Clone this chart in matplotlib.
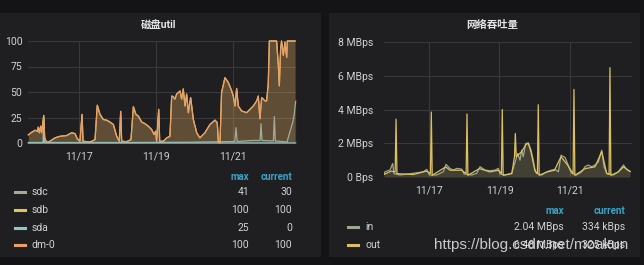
import pandas as pd
import matplotlib.pyplot as plt
import matplotlib.dates as mdates
from matplotlib.patches import Rectangle
from matplotlib.lines import Line2D
from matplotlib.ticker import FuncFormatter

plt.rcParams['font.family'] = ['Roboto', 'Noto Sans CJK SC', 'DejaVu Sans']

W, H = 644, 265

# ---- 磁盘util (hours after 11/15 16:10, percent) ----
disk_start = pd.Timestamp('2018-11-15 16:10')
disk_span = 167.1

dm0_h = [0.2, 2.3, 4.4, 5.8, 6.4, 7.1, 7.9, 8.5, 9.8, 10.4, 11.6, 13.7, 16.8, 20.0,
         24.1, 27.2, 29.3, 30.8, 32.4, 33.7, 34.3, 38.7, 41.8, 43.2, 44.9, 47.0, 49.0,
         51.1, 53.2, 55.3, 56.9, 57.8, 58.4, 61.5, 64.2, 65.7, 67.3, 68.8, 70.9, 72.9,
         75.0, 77.1, 78.6, 79.6, 80.2, 81.5, 82.1, 84.4, 86.5, 88.5, 89.6, 90.6, 91.6,
         92.7, 94.8, 95.8, 96.8, 97.9, 98.9, 100.0, 101.4, 103.1, 105.2, 107.2, 110.3,
         113.5, 116.6, 118.0, 118.7, 119.7, 120.7, 122.8, 124.9, 127.0, 128.0, 129.1,
         130.1, 131.1, 133.2, 136.3, 140.5, 142.6, 143.6, 144.6, 145.7, 147.8, 148.8,
         149.8, 150.5, 155.0, 156.1, 156.7, 157.5, 158.1, 159.2, 160.2, 161.3, 161.7,
         166.5]
dm0_v = [8, 10.5, 12.5, 11.5, 15.5, 10, 16.5, 10, 27, 5, 0.7, 1.7, 5, 6.6,
         7.3, 10, 9.2, 4, 1.7, 28, 1.7, 1, 3.3, 37, 28, 23, 22.4,
         20.5, 18.2, 6.6, 1.7, 31, 1.7, 1.3, 3.3, 35.6, 28, 26.4, 20.5, 19,
         16.5, 13.2, 8.3, 11.6, 1.7, 33, 1.7, 1.7, 5, 6.6, 46, 45.5, 43,
         48, 51, 43, 53, 36.3, 48, 29.7, 44.5, 23, 10, 5, 10,
         18.2, 22.4, 20, 0.7, 0, 49.5, 64, 59.4, 51, 46, 36.3,
         53.5, 36.3, 31.4, 29.7, 36.3, 41.3, 46, 23.8, 44.5, 41.3, 41.3,
         57.8, 100, 100, 76, 56, 92, 100, 86, 99, 84, 100,
         100]
sdb_h = dm0_h
sdb_v = dm0_v
sdc_h = [0.2, 30, 60, 100, 128.9, 129.7, 130.4, 140, 144.7, 145.3, 145.9,
         153.0, 153.6, 154.2, 161.5, 163.5, 165.0, 166.0, 166.9]
sdc_v = [0.5, 0.5, 0.5, 0.8, 1.5, 15, 1.5, 2.5, 2.5, 19, 2.5,
         2, 26, 2, 1, 12, 20, 28, 41]
sda_h = [0.2, 9.4, 9.8, 10.2, 166.9]
sda_v = [0, 0, 25, 0, 0]

disk_names = ['sdc', 'sdb', 'sda', 'dm-0']
disk_colors = ['#a3ab98', '#e0c460', '#8cc7c9', '#e9a066']
disk_max = ['41', '100', '25', '100']
disk_cur = ['30', '100', '0', '100']

# ---- 网络吞吐量 (hours after 11/15 17:25, MBps) ----
net_start = pd.Timestamp('2018-11-15 17:25')
net_span = 168.8

in_h = [0, 0.7, 4.1, 5.9, 6.8, 10.9, 20, 26.8, 29.1, 30.9, 35.9, 40.4, 42.2, 44.9,
        47.2, 49.5, 52.9, 54.5, 59.7, 63.1, 65.4, 68.8, 72.2, 75.6, 77.8, 79.0,
        82.4, 86.9, 91.0, 92.6, 93.7, 94.8, 96.4, 98.2, 100.1, 101.6, 102.8, 103.9,
        107.3, 110.8, 114.1, 116.4, 118.7, 120.5, 123.2, 125.0, 126.6, 127.8, 131.2,
        134.6, 136.8, 139.1, 141.4, 143.6, 145.9, 148.2, 149.8, 151.6, 156.2, 159.5,
        163.0, 165.2, 167.5]
in_v = [0.18, 0.31, 0.41, 0.8, 0.2, 0.12, 0.22, 0.31, 0.45, 0.12, 0.12, 0.31, 0.75, 0.51,
        0.41, 0.51, 0.47, 0.18, 0.12, 0.22, 0.61, 0.41, 0.37, 0.41, 0.51, 0.18,
        0.12, 0.22, 1.39, 1.0, 1.59, 1.2, 1.98, 2.02, 1.59, 1.0, 0.41, 0.22,
        0.12, 0.31, 0.41, 0.45, 0.31, 1.29, 1.16, 0.8, 0.41, 0.22, 0.12,
        0.31, 0.61, 0.71, 0.61, 0.71, 0.9, 1.59, 0.61, 0.22, 0.12, 0.31,
        0.71, 0.45, 0.334]
out_h = [0, 5, 7.6, 8.2, 8.8, 20, 29, 31.6, 32.2, 32.8, 42, 45, 53, 55.9, 56.5, 57.1,
         65, 72, 78, 79.9, 80.5, 81.1, 87, 88.8, 89.4, 90, 93.7, 96.4, 98.2, 100,
         102.8, 104.4, 105.0, 105.6, 111, 116, 120.5, 125, 128.7, 129.3, 129.9, 137,
         143.6, 148.2, 151.6, 153.2, 153.8, 154.4, 159.5, 163, 167.5]
out_v = [0.15, 0.35, 0.3, 3.43, 0.2, 0.15, 0.35, 0.2, 3.85, 0.1, 0.6, 0.4, 0.4, 0.2, 3.73, 0.1,
         0.5, 0.3, 0.4, 0.2, 4.0, 0.1, 0.2, 1.2, 2.58, 1.2, 1.5, 1.9, 2.0, 1.5,
         0.35, 0.2, 4.28, 0.1, 0.3, 0.4, 1.2, 0.7, 0.2, 5.19, 0.1, 0.5,
         0.6, 1.5, 0.2, 0.15, 6.48, 0.1, 0.3, 0.6, 0.325]

net_names = ['in', 'out']
net_colors = ['#9aa88e', '#dcc060']
net_max = ['2.04 MBps', '6.48 MBps']
net_cur = ['334 kBps', '325 kBps']

PANEL = '#1f1f21'
GRID = '#38383a'
TXT = '#d0d1d3'
HEAD = '#3aa3c8'


def fx(x):
    return x / W


def fy(y):
    return 1 - y / H


def times(start, hours):
    return start + pd.to_timedelta(hours, unit='h')


def style(ax, start, span):
    ax.set_facecolor(PANEL)
    ax.set_xlim(start, times(start, span))
    ax.xaxis.set_major_locator(mdates.DayLocator(bymonthday=[17, 19, 21]))
    ax.xaxis.set_major_formatter(mdates.DateFormatter('%m/%d'))
    ax.grid(True, color=GRID, lw=0.8)
    ax.set_axisbelow(True)
    for s in ax.spines.values():
        s.set_visible(False)
    ax.tick_params(length=0, colors=TXT, labelsize=7.5)
    ax.tick_params(axis='x', pad=6)


fig = plt.figure(figsize=(6.44, 2.65), dpi=100, facecolor='#141416')
fig.add_artist(Rectangle((0, fy(257)), fx(321), (257 - 13) / H, transform=fig.transFigure,
                         facecolor=PANEL, edgecolor='none', zorder=0))
fig.add_artist(Rectangle((fx(329), fy(257)), fx(640 - 329), (257 - 13) / H,
                         transform=fig.transFigure, facecolor=PANEL, edgecolor='none', zorder=0))

# left chart
ax1 = fig.add_axes([fx(28), fy(143), 268 / W, 102 / H])
style(ax1, disk_start, disk_span)
ax1.set_ylim(0, 100)
ax1.set_yticks([0, 25, 50, 75, 100])
ax1.tick_params(axis='y', pad=4)
disk_series = [(sdc_h, sdc_v), (sdb_h, sdb_v), (sda_h, sda_v), (dm0_h, dm0_v)]
fills = [0.08, 0.16, 0.08, 0.2]
for (h, v), c, a in zip(disk_series, disk_colors, fills):
    t = times(disk_start, h)
    ax1.fill_between(t, v, color=c, alpha=a, lw=0)
    ax1.plot(t, v, color=c, lw=0.9, clip_on=False)

# right chart
ax2 = fig.add_axes([fx(384), fy(177), 248 / W, 135 / H])
style(ax2, net_start, net_span)
ax2.set_ylim(0, 8)
ax2.set_yticks([0, 2, 4, 6, 8])
ax2.yaxis.set_major_formatter(FuncFormatter(lambda v, p: '0 Bps' if v == 0 else f'{v:.0f} MBps'))
ax2.tick_params(axis='y', pad=8)
for (h, v), c in zip([(in_h, in_v), (out_h, out_v)], net_colors):
    t = times(net_start, h)
    ax2.fill_between(t, v, color=c, alpha=0.12, lw=0)
    ax2.plot(t, v, color=c, lw=0.9)

# titles
fig.text(fx(159), fy(25), '磁盘util', ha='center', va='center', color='#e4e5e6',
         fontsize=7.5, fontweight='bold')
fig.text(fx(492), fy(25), '网络吞吐量', ha='center', va='center', color='#e4e5e6',
         fontsize=7.5, fontweight='bold')


# legends
def legend(x_sw, x_lab, x_max, x_cur, y_head, ys, names, colors, maxs, curs):
    fig.text(fx(x_max), fy(y_head), 'max', ha='right', va='center', color=HEAD,
             fontsize=7, fontweight='bold')
    fig.text(fx(x_cur), fy(y_head), 'current', ha='right', va='center', color=HEAD,
             fontsize=7, fontweight='bold')
    for y, n, c, m, cu in zip(ys, names, colors, maxs, curs):
        fig.add_artist(Line2D([fx(x_sw), fx(x_sw + 10)], [fy(y), fy(y)], color=c, lw=2.2,
                              transform=fig.transFigure))
        fig.text(fx(x_lab), fy(y), n, ha='left', va='center', color=TXT, fontsize=7.5)
        fig.text(fx(x_max), fy(y), m, ha='right', va='center', color=TXT, fontsize=7.5)
        fig.text(fx(x_cur), fy(y), cu, ha='right', va='center', color=TXT, fontsize=7.5)


legend(15, 32, 249, 292, 177, [192, 210, 228, 245], disk_names, disk_colors, disk_max, disk_cur)
legend(348, 365, 564, 625, 211, [227, 245], net_names, net_colors, net_max, net_cur)

# watermark
fig.text(fx(434), fy(245), 'https://blog.csdn.net/moakun', ha='left', va='center',
         color='#e8e8e8', alpha=0.85, fontsize=11, family='Liberation Sans')

fig.savefig('out.png', dpi=100, facecolor=fig.get_facecolor())
